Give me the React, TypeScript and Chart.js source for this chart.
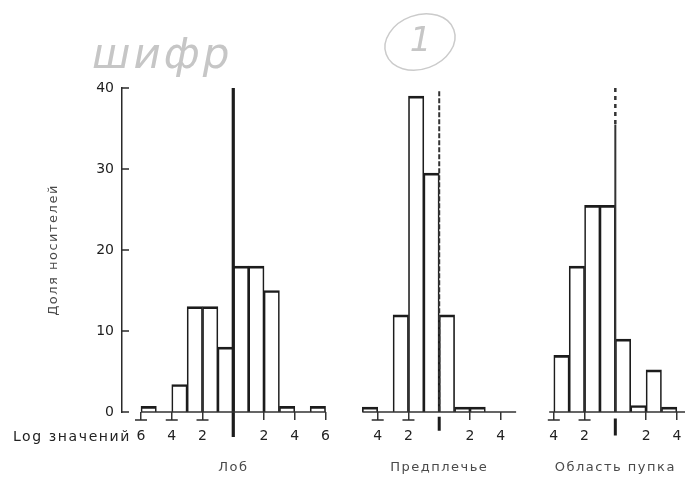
import React, { useEffect, useRef } from "react";
import { Chart, registerables } from "chart.js";

Chart.register(...registerables);

// ---------- data ----------
const yTicks = [0, 10, 20, 30, 40];
const panelNames = ["Лоб", "Предплечье", "Область пупка"];
// where each panel's zero sits on the shared x axis (in bin units)
const panelCenters = [0, 13.39, 24.84];
// first bin edge of each histogram (log units)
const binStarts = [-6, -5, -4];
const foreheadValues = [0.7, 0, 3.4, 13, 13, 8, 18, 18, 15, 0.7, 0, 0.7];
const forearmValues = [0.6, 0, 12, 39, 29.5, 12, 0.6, 0.6, 0, 0];
const navelValues = [7, 18, 25.5, 25.5, 9, 0.8, 5.2, 0.6];
const baselineRanges = [
  [-6, 6],
  [-5, 5],
  [-4.3, 4.7],
];
const tickValues = [
  [-6, -4, -2, 2, 4, 6],
  [-4, -2, 2, 4],
  [-4, -2, 2, 4],
];
const tickLabels = [
  ["6", "4", "2", "2", "4", "6"],
  ["4", "2", "2", "4"],
  ["4", "2", "2", "4"],
];
const xAxisLabel = "Log значений";
const yAxisTitle = "Доля носителей";
const handNote = "шифр";
const handNumber = "1";

const panelValues = [foreheadValues, forearmValues, navelValues];

export default function App() {
  const ref = useRef<HTMLCanvasElement | null>(null);

  useEffect(() => {
    document.body.style.margin = "0";
    const canvas = ref.current;
    if (!canvas) return;

    const barData: { x: number; y: number }[] = [];
    panelValues.forEach((vals, p) => {
      vals.forEach((v, i) => {
        barData.push({ x: panelCenters[p] + binStarts[p] + i + 0.5, y: v });
      });
    });

    const allTicks: { value: number; label: string; neg: boolean }[] = [];
    tickValues.forEach((vals, p) => {
      vals.forEach((v, i) => {
        allTicks.push({ value: panelCenters[p] + v, label: tickLabels[p][i], neg: v < 0 });
      });
    });

    const baselineData: any[] = [];
    baselineRanges.forEach((r, p) => {
      baselineData.push({ x: panelCenters[p] + r[0], y: 0 });
      baselineData.push({ x: panelCenters[p] + r[1], y: 0 });
      baselineData.push({ x: panelCenters[p] + r[1] + 0.01, y: null });
    });

    const ink = "#1c1c1c";
    const lineDs = (data: any[], width: number, dash: number[] = [], color = ink) => ({
      type: "line" as const,
      data,
      borderColor: color,
      borderWidth: width,
      borderDash: dash,
      pointRadius: 0,
      fill: false,
      clip: false as any,
      spanGaps: false,
      order: 1,
    });

    const c0 = panelCenters[0], c1 = panelCenters[1], c2 = panelCenters[2];

    const decor = {
      id: "decor",
      afterDraw(chart: any) {
        const ctx = chart.ctx as CanvasRenderingContext2D;
        const xs = chart.scales.x;
        const ys = chart.scales.y;
        const area = chart.chartArea;
        ctx.save();
        // inward y ticks
        ctx.strokeStyle = "#2a2a2a";
        ctx.lineWidth = 1.5;
        yTicks.forEach((v) => {
          const y = ys.getPixelForValue(v);
          ctx.beginPath();
          ctx.moveTo(area.left, y);
          ctx.lineTo(area.left + 7, y);
          ctx.stroke();
        });
        // minus bars under negative ticks
        allTicks.forEach((t) => {
          if (!t.neg) return;
          const x = xs.getPixelForValue(t.value);
          const y = xs.top + 8;
          ctx.beginPath();
          ctx.moveTo(x - 6, y);
          ctx.lineTo(x + 6, y);
          ctx.stroke();
        });
        // texts
        (ctx as any).letterSpacing = "1.6px";
        ctx.fillStyle = "#222";
        ctx.font = '14px "DejaVu Sans"';
        ctx.textAlign = "right";
        ctx.textBaseline = "middle";
        ctx.fillText(xAxisLabel, xs.getPixelForValue(c0 - 6) - 10, 437);

        (ctx as any).letterSpacing = "1.5px";
        ctx.fillStyle = "#4a4a4a";
        ctx.font = '13px "DejaVu Sans"';
        ctx.textAlign = "center";
        panelNames.forEach((n, p) => {
          ctx.fillText(n, xs.getPixelForValue(panelCenters[p]), 468);
        });

        ctx.save();
        ctx.translate(54, (ys.getPixelForValue(0) + ys.getPixelForValue(40)) / 2);
        ctx.rotate(-Math.PI / 2);
        ctx.fillText(yAxisTitle, 0, 0);
        ctx.restore();

        // handwritten annotation
        (ctx as any).letterSpacing = "3px";
        ctx.fillStyle = "#c6c6c6";
        ctx.font = 'italic 42px "DejaVu Sans"';
        ctx.textAlign = "left";
        ctx.textBaseline = "alphabetic";
        ctx.fillText(handNote, 92, 68);
        ctx.strokeStyle = "#cbcbcb";
        ctx.lineWidth = 1.5;
        ctx.beginPath();
        ctx.ellipse(420, 42, 36, 27, -0.35, 0, Math.PI * 2);
        ctx.stroke();
        ctx.font = 'italic 34px "DejaVu Sans"';
        ctx.textAlign = "center";
        ctx.textBaseline = "middle";
        ctx.fillText(handNumber, 422, 42);
        ctx.restore();
      },
    };

    const chart = new Chart(canvas, {
      type: "bar",
      data: {
        datasets: [
          {
            type: "bar",
            data: barData,
            backgroundColor: "rgba(0,0,0,0)",
            borderColor: ink,
            borderWidth: { top: 2, left: 1, right: 1, bottom: 0 },
            borderSkipped: false,
            barPercentage: 1,
            categoryPercentage: 1,
            order: 2,
          } as any,
          lineDs(baselineData, 1.6, [], "#333"),
          lineDs([{ x: c0, y: 40 }, { x: c0, y: -3.1 }], 3.2),
          lineDs([{ x: c1, y: 39.6 }, { x: c1, y: 0 }], 2, [5, 2], "#333"),
          lineDs([{ x: c1, y: -0.6 }, { x: c1, y: -2.3 }], 3),
          lineDs([{ x: c2, y: 40 }, { x: c2, y: 35.5 }], 2.5, [4, 4], "#333"),
          lineDs([{ x: c2, y: 35.5 }, { x: c2, y: 0 }], 2, [], "#333"),
          lineDs([{ x: c2, y: -0.8 }, { x: c2, y: -2.9 }], 3),
        ],
      },
      options: {
        responsive: false,
        animation: false,
        events: [],
        layout: { padding: { top: 88, left: 0, right: 0, bottom: 0 } },
        plugins: { legend: { display: false }, tooltip: { enabled: false } },
        scales: {
          x: {
            type: "linear",
            offset: false,
            min: -7.235,
            max: 29.37,
            grid: {
              offset: false,
              drawOnChartArea: false,
              drawTicks: true,
              tickLength: 8,
              color: "#333",
              lineWidth: 1.5,
            },
            border: { display: false },
            afterBuildTicks: (scale: any) => {
              scale.ticks = allTicks.map((t) => ({ value: t.value }));
            },
            afterFit: (scale: any) => {
              scale.height = 68;
              scale.paddingLeft = 0;
              scale.paddingRight = 0;
            },
            ticks: {
              autoSkip: false,
              maxRotation: 0,
              padding: 8,
              color: "#222",
              font: { family: "DejaVu Sans", size: 14 },
              callback: (_v: any, i: number) => (allTicks[i] ? allTicks[i].label : ""),
            },
          },
          y: {
            type: "linear",
            min: 0,
            max: 40,
            grid: { display: false, drawTicks: false },
            border: { display: true, color: "#2a2a2a", width: 1.5 },
            afterBuildTicks: (scale: any) => {
              scale.ticks = yTicks.map((v) => ({ value: v }));
            },
            afterFit: (scale: any) => {
              scale.width = 122;
              scale.paddingTop = 0;
              scale.paddingBottom = 0;
            },
            ticks: {
              padding: 8,
              color: "#1e1e1e",
              font: { family: "DejaVu Sans", size: 14 },
              callback: (v: any) => String(v),
            },
          },
        },
      },
      plugins: [decor],
    } as any);

    return () => chart.destroy();
  }, []);

  return (
    <div style={{ position: "absolute", left: 0, top: 0, width: 685, height: 480, background: "#fff" }}>
      <canvas ref={ref} width={685} height={480} style={{ display: "block" }} />
    </div>
  );
}
